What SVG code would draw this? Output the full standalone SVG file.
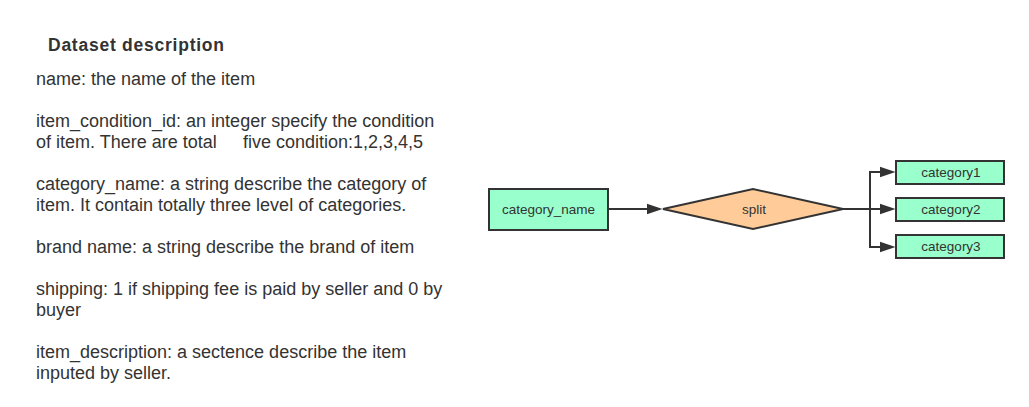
<svg xmlns="http://www.w3.org/2000/svg" width="1029" height="407" viewBox="0 0 1029 407">
<style>
.bg{fill:#ffffff}
.title{font-family:"Liberation Sans",Arial,sans-serif;font-size:17.5px;font-weight:bold;fill:#333333}
.body{font-family:"Liberation Sans",Arial,sans-serif;font-size:18px;fill:#333333}
.box{fill:#99ffcc;stroke:#333333;stroke-width:2}
.dia{fill:#ffcc99;stroke:#333333;stroke-width:2}
.lbl{font-family:"Liberation Sans",Arial,sans-serif;font-size:13.5px;fill:#333333;text-anchor:middle}
.edge{fill:none;stroke:#333333;stroke-width:2}
</style>
<defs>
<marker id="arrow" markerUnits="userSpaceOnUse" markerWidth="17" markerHeight="12" refX="0.5" refY="6" orient="auto">
<path d="M0,0.5 L16,6 L0,11.5 z" fill="#333333"/>
</marker>
</defs>
<rect class="bg" x="0" y="0" width="1029" height="407"/>
<g id="description">
<text class="title" x="48" y="51" textLength="176" lengthAdjust="spacing">Dataset description</text>
<text class="body" x="36" y="85">name: the name of the item</text>
<text class="body" x="36" y="127">item_condition_id: an integer specify the condition</text>
<text class="body" x="36" y="148">of item. There are total<tspan x="243">five condition:1,2,3,4,5</tspan></text>
<text class="body" x="36" y="190">category_name: a string describe the category of</text>
<text class="body" x="36" y="211">item. It contain totally three level of categories.</text>
<text class="body" x="36" y="253">brand name: a string describe the brand of item</text>
<text class="body" x="36" y="295">shipping: 1 if shipping fee is paid by seller and 0 by</text>
<text class="body" x="36" y="316">buyer</text>
<text class="body" x="36" y="358">item_description: a sectence describe the item</text>
<text class="body" x="36" y="379">inputed by seller.</text>
</g>
<g id="connectors">
<path class="edge" d="M608,209 H647" marker-end="url(#arrow)"/>
<path class="edge" d="M843,209 H880" marker-end="url(#arrow)"/>
<path class="edge" d="M870,209 V172 H880" marker-end="url(#arrow)"/>
<path class="edge" d="M870,209 V247 H880" marker-end="url(#arrow)"/>
</g>
<g id="node-category_name">
<rect class="box" x="489" y="189" width="119" height="41"/>
<text class="lbl" x="548.5" y="214">category_name</text>
</g>
<g id="node-split">
<polygon class="dia" points="663,209 753,189 843,209 753,229"/>
<text class="lbl" x="754" y="214">split</text>
</g>
<g id="node-category1">
<rect class="box" x="896" y="161" width="108" height="23"/>
<text class="lbl" x="951" y="177">category1</text>
</g>
<g id="node-category2">
<rect class="box" x="896" y="198" width="108" height="23"/>
<text class="lbl" x="951" y="214">category2</text>
</g>
<g id="node-category3">
<rect class="box" x="896" y="235" width="108" height="23"/>
<text class="lbl" x="951" y="251">category3</text>
</g>
</svg>
